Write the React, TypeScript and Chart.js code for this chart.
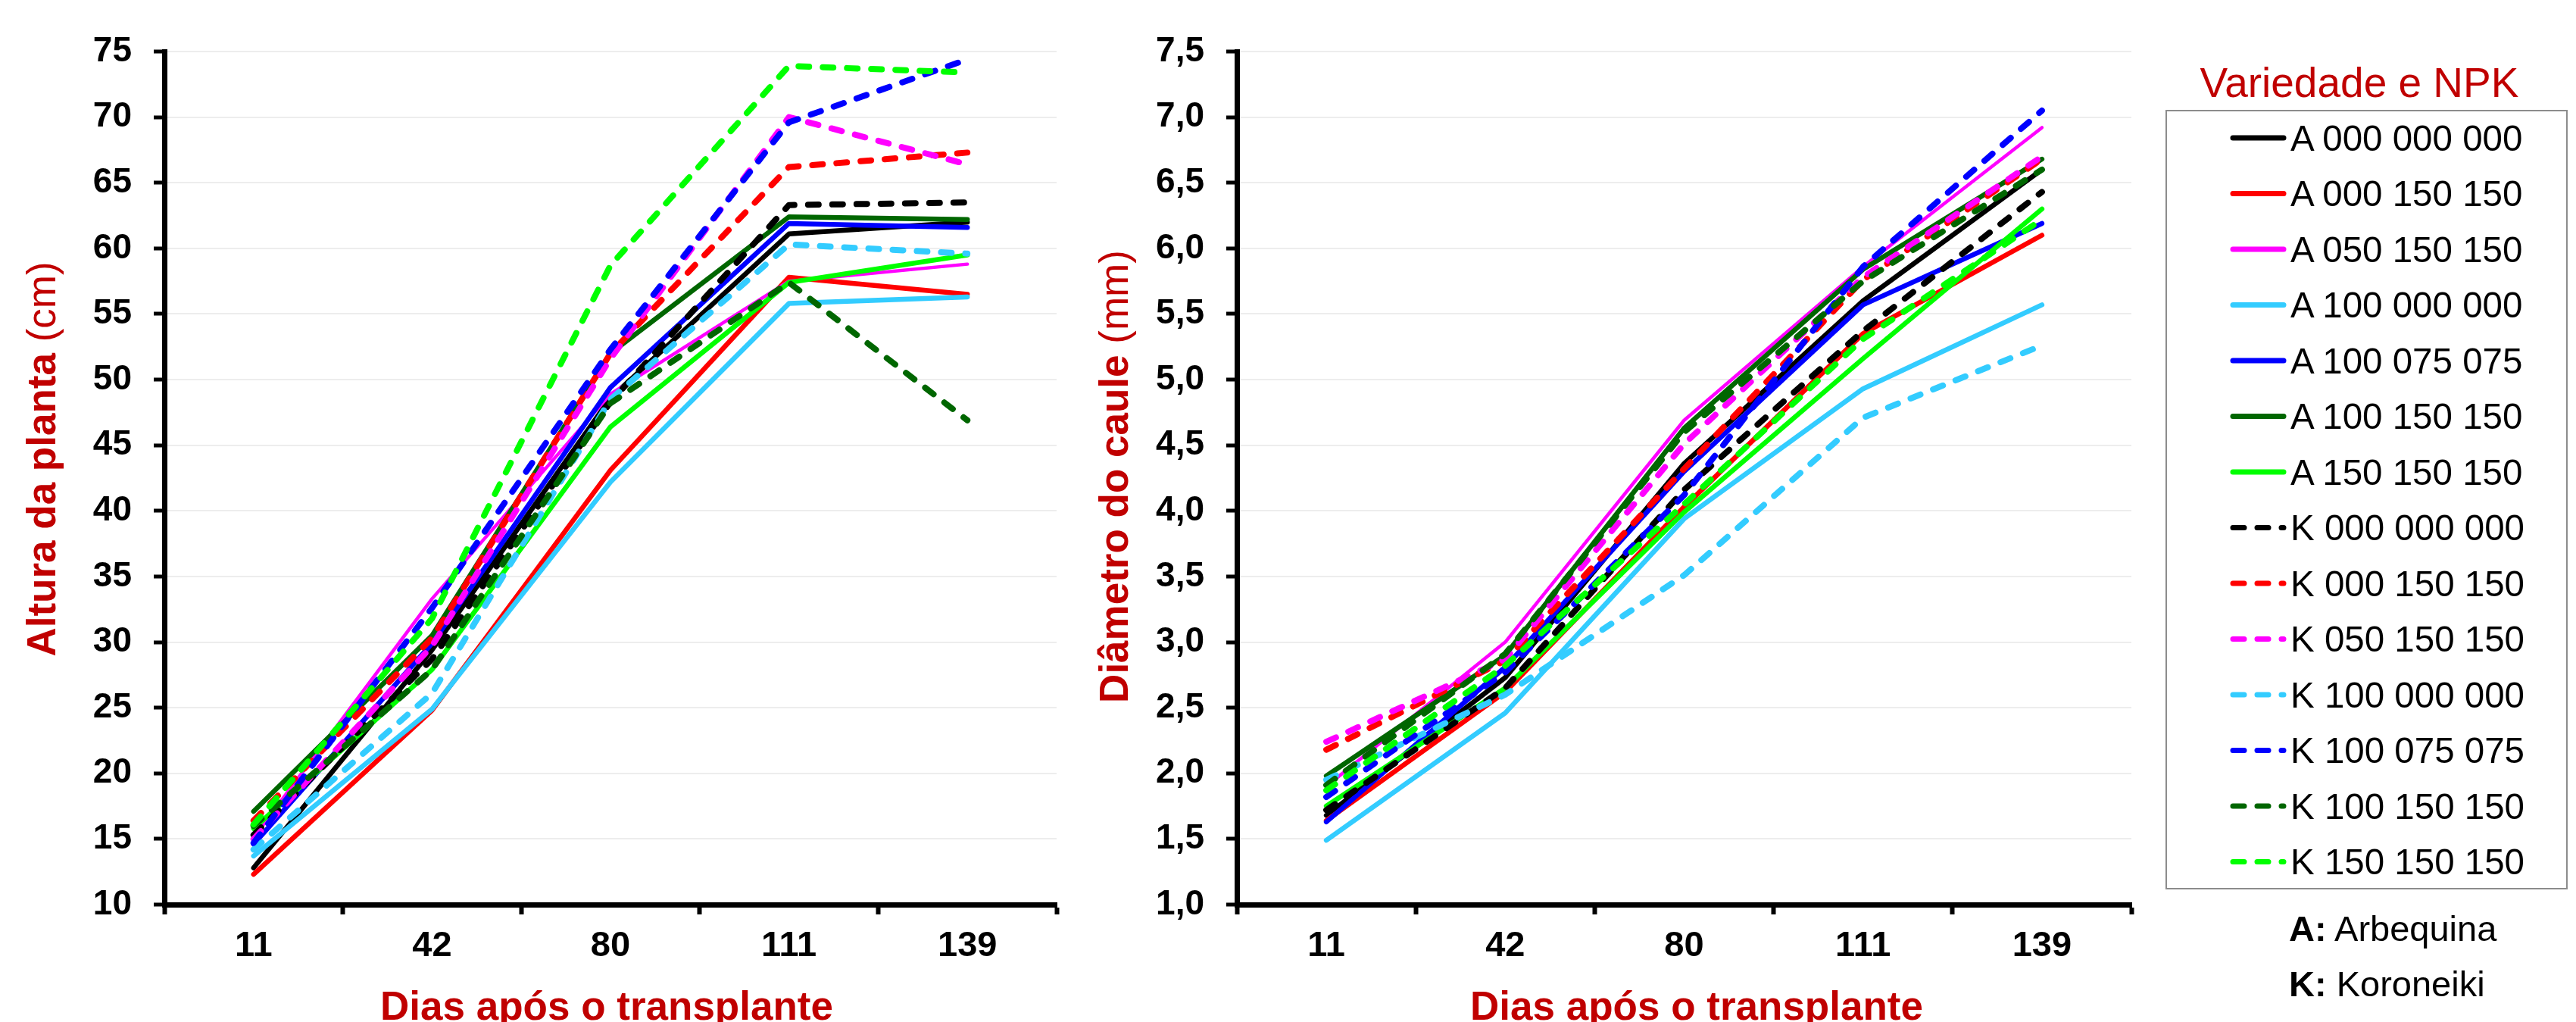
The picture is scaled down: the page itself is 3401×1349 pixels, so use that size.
import React, { useEffect, useRef } from "react";
import { Chart, registerables } from "chart.js";

Chart.register(...registerables);

const FONT = '"Liberation Sans", Arial, sans-serif';
const TITLE_RED = "#C00000";

// ---------- data ----------
const days = ["11", "42", "80", "111", "139"];

const seriesNames = [
  "A 000 000 000", "A 000 150 150", "A 050 150 150", "A 100 000 000",
  "A 100 075 075", "A 100 150 150", "A 150 150 150",
  "K 000 000 000", "K 000 150 150", "K 050 150 150", "K 100 000 000",
  "K 100 075 075", "K 100 150 150", "K 150 150 150",
];
const seriesColors = [
  "#000000", "#FF0000", "#FF00FF", "#33CCFF", "#0000FF", "#006600", "#00FF00",
  "#000000", "#FF0000", "#FF00FF", "#33CCFF", "#0000FF", "#006600", "#00FF00",
];
const seriesDashed = [false, false, false, false, false, false, false, true, true, true, true, true, true, true];

// Altura da planta (cm)
const alturaA000000000 = [12.8, 29.4, 48.6, 61.1, 62.0];
const alturaA000150150 = [12.3, 24.8, 43.1, 57.8, 56.5];
const alturaA050150150 = [15.1, 33.3, 48.9, 57.5, 58.8];
const alturaA100000000 = [13.7, 24.9, 42.2, 55.8, 56.3];
const alturaA100075075 = [14.6, 29.9, 49.4, 61.9, 61.6];
const alturaA100150150 = [17.1, 30.5, 52.0, 62.4, 62.2];
const alturaA150150150 = [15.8, 27.9, 46.4, 57.4, 59.5];
const alturaK000000000 = [15.3, 28.7, 48.3, 63.3, 63.5];
const alturaK000150150 = [16.4, 30.3, 52.0, 66.2, 67.3];
const alturaK050150150 = [15.0, 29.7, 51.6, 70.0, 66.4];
const alturaK100000000 = [14.2, 26.1, 48.5, 60.3, 59.6];
const alturaK100075075 = [14.7, 32.6, 52.3, 69.6, 74.4];
const alturaK100150150 = [16.0, 27.9, 48.2, 57.4, 46.9];
const alturaK150150150 = [16.1, 31.8, 58.7, 73.9, 73.4];

// Diâmetro do caule (mm)
const diamA000000000 = [1.68, 2.73, 4.36, 5.60, 6.60];
const diamA000150150 = [1.64, 2.62, 4.03, 5.35, 6.10];
const diamA050150150 = [1.90, 3.00, 4.69, 5.86, 6.92];
const diamA100000000 = [1.49, 2.46, 3.94, 4.93, 5.57];
const diamA100075075 = [1.63, 2.81, 4.30, 5.57, 6.19];
const diamA100150150 = [1.98, 2.90, 4.63, 5.84, 6.68];
const diamA150150150 = [1.75, 2.65, 3.99, 5.16, 6.30];
const diamK000000000 = [1.72, 2.65, 4.16, 5.37, 6.43];
const diamK000150150 = [2.18, 2.86, 4.32, 5.76, 6.68];
const diamK050150150 = [2.24, 2.87, 4.51, 5.78, 6.70];
const diamK100000000 = [1.95, 2.60, 3.51, 4.71, 5.26];
const diamK100075075 = [1.82, 2.77, 4.12, 5.86, 7.05];
const diamK100150150 = [1.91, 2.91, 4.60, 5.75, 6.60];
const diamK150150150 = [1.87, 2.82, 4.05, 5.31, 6.22];

const alturaSeries = [
  alturaA000000000, alturaA000150150, alturaA050150150, alturaA100000000,
  alturaA100075075, alturaA100150150, alturaA150150150,
  alturaK000000000, alturaK000150150, alturaK050150150, alturaK100000000,
  alturaK100075075, alturaK100150150, alturaK150150150,
];
const diamSeries = [
  diamA000000000, diamA000150150, diamA050150150, diamA100000000,
  diamA100075075, diamA100150150, diamA150150150,
  diamK000000000, diamK000150150, diamK050150150, diamK100000000,
  diamK100075075, diamK100150150, diamK150150150,
];

const alturaTicks = { min: 10, max: 75, step: 5 };
const diamTicks = { min: 1, max: 7.5, step: 0.5 };

const legendTitle = "Variedade e NPK";
const varietyNotes = [
  { key: "A:", name: " Arbequina" },
  { key: "K:", name: " Koroneiki" },
];

// ---------- plugin for axis titles ----------
const axisTitlePlugin = {
  id: "axisTitles",
  afterDraw(chart: any, _args: any, opts: any) {
    const { ctx, chartArea } = chart;
    ctx.save();
    ctx.fillStyle = TITLE_RED;
    ctx.textBaseline = "alphabetic";
    ctx.textAlign = "left";
    ctx.translate(chartArea.left - 144, opts.yCenter);
    ctx.rotate(-Math.PI / 2);
    ctx.font = `bold 53px ${FONT}`;
    const w1 = ctx.measureText(opts.yBold).width;
    ctx.font = `53px ${FONT}`;
    const w2 = ctx.measureText(opts.yNormal).width;
    const start = -(w1 + w2) / 2;
    ctx.font = `bold 53px ${FONT}`;
    ctx.fillText(opts.yBold, start, 0);
    ctx.font = `53px ${FONT}`;
    ctx.fillText(opts.yNormal, start + w1, 0);
    ctx.restore();

    ctx.save();
    ctx.fillStyle = TITLE_RED;
    ctx.font = `bold 53px ${FONT}`;
    ctx.textAlign = "center";
    ctx.textBaseline = "alphabetic";
    ctx.fillText(opts.xTitle, opts.xCenter, 1346);
    ctx.restore();
  },
};

type LineChartProps = {
  series: number[][];
  ticks: { min: number; max: number; step: number };
  fmt: (v: number) => string;
  left: number;
  width: number;
  rightPad: number;
  yBold: string;
  yNormal: string;
  yCenter: number;
  xCenter: number;
};

function LineChart(p: LineChartProps) {
  const ref = useRef<HTMLCanvasElement>(null);
  useEffect(() => {
    const n = p.series.length;
    const chart = new Chart(ref.current as HTMLCanvasElement, {
      type: "line",
      data: {
        labels: days,
        datasets: p.series.map((vals, i) => ({
          label: seriesNames[i],
          data: vals,
          borderColor: seriesColors[i],
          backgroundColor: seriesColors[i],
          borderWidth: seriesDashed[i] ? 8 : i === 2 ? 4.5 : 6.5,
          borderDash: seriesDashed[i] ? [14, 18] : [],
          borderCapStyle: "round",
          borderJoinStyle: "round",
          pointRadius: 0,
          pointHoverRadius: 0,
          tension: 0,
          fill: false,
          order: n - 1 - i,
        })),
      },
      options: {
        animation: false,
        responsive: false,
        maintainAspectRatio: false,
        events: [],
        layout: { padding: { top: 68, left: 0, right: p.rightPad, bottom: 0 } },
        plugins: {
          legend: { display: false },
          tooltip: { enabled: false },
          axisTitles: {
            yBold: p.yBold,
            yNormal: p.yNormal,
            yCenter: p.yCenter,
            xTitle: "Dias após o transplante",
            xCenter: p.xCenter,
          },
        } as any,
        scales: {
          x: {
            type: "category",
            offset: true,
            border: { color: "#000", width: 7 },
            grid: {
              offset: true,
              drawOnChartArea: false,
              drawTicks: true,
              tickLength: 13,
              tickColor: "#000",
              tickWidth: 6,
            },
            ticks: {
              color: "#000",
              font: { family: FONT, size: 47, weight: "bold" },
              padding: 14,
              maxRotation: 0,
              autoSkip: false,
            },
            afterFit: (s: any) => {
              s.height = 155;
            },
          },
          y: {
            min: p.ticks.min,
            max: p.ticks.max,
            border: { color: "#000", width: 7 },
            grid: {
              color: "#EDEDED",
              lineWidth: 2,
              drawTicks: true,
              tickLength: 14,
              tickColor: "#000",
              tickWidth: 5,
            },
            ticks: {
              stepSize: p.ticks.step,
              color: "#000",
              font: { family: FONT, size: 46, weight: "bold" },
              padding: 29,
              callback: (v: any) => p.fmt(Number(v)),
            },
            afterFit: (s: any) => {
              s.width = 217;
            },
          },
        },
      },
      plugins: [axisTitlePlugin],
    } as any);
    return () => chart.destroy();
  }, []);
  return (
    <canvas
      ref={ref}
      width={p.width}
      height={1349}
      style={{ position: "absolute", left: p.left, top: 0, width: p.width, height: 1349 }}
    />
  );
}

function Legend() {
  const rowY = (i: number) => 182 + i * 73.5;
  const textStyle = (top: number, size: number): React.CSSProperties => ({
    position: "absolute",
    top,
    fontSize: size,
    lineHeight: `${size}px`,
    fontFamily: FONT,
    whiteSpace: "nowrap",
  });
  return (
    <>
      <div style={{ ...textStyle(82, 55), left: 2860, width: 510, textAlign: "center", color: TITLE_RED }}>
        {legendTitle}
      </div>
      <div
        style={{
          position: "absolute",
          left: 2859,
          top: 145,
          width: 3390 - 2859,
          height: 1174 - 145,
          border: "2px solid #8C8C8C",
          boxSizing: "border-box",
        }}
      />
      <svg
        width={3401}
        height={1349}
        style={{ position: "absolute", left: 0, top: 0, pointerEvents: "none" }}
      >
        {seriesNames.map((_, i) => (
          <line
            key={i}
            x1={2948}
            x2={3015}
            y1={rowY(i)}
            y2={rowY(i)}
            stroke={seriesColors[i]}
            strokeWidth={7}
            strokeLinecap="round"
            strokeDasharray={seriesDashed[i] ? "15 17" : undefined}
          />
        ))}
      </svg>
      {seriesNames.map((name, i) => (
        <div key={name} style={{ ...textStyle(rowY(i) - 23.5, 47.5), left: 3024, color: "#000" }}>
          {name}
        </div>
      ))}
      {varietyNotes.map((v, i) => (
        <div key={v.key} style={{ ...textStyle(1202 + i * 73, 47), left: 3022, color: "#000" }}>
          <b>{v.key}</b>
          {v.name}
        </div>
      ))}
    </>
  );
}

export default function App() {
  return (
    <div
      style={{
        position: "fixed",
        left: 0,
        top: 0,
        width: 3401,
        height: 1349,
        overflow: "hidden",
        background: "#fff",
        fontFamily: FONT,
      }}
    >
      <LineChart
        series={alturaSeries}
        ticks={alturaTicks}
        fmt={(v) => String(Math.round(v))}
        left={0}
        width={1416}
        rightPad={21}
        yBold="Altura da planta "
        yNormal="(cm)"
        yCenter={606}
        xCenter={801}
      />
      <LineChart
        series={diamSeries}
        ticks={diamTicks}
        fmt={(v) => v.toFixed(1).replace(".", ",")}
        left={1416}
        width={1443}
        rightPad={45}
        yBold="Diâmetro do caule "
        yNormal="(mm)"
        yCenter={629}
        xCenter={824}
      />
      <Legend />
    </div>
  );
}
